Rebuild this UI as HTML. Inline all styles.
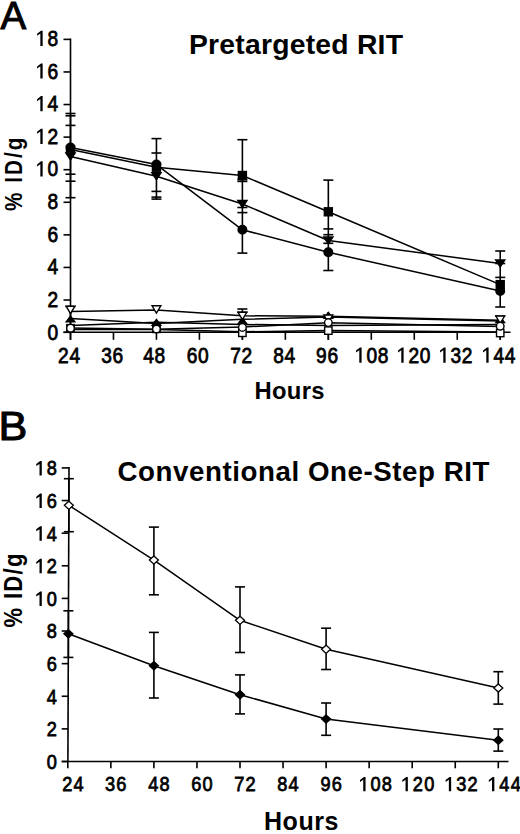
<!DOCTYPE html>
<html><head><meta charset="utf-8"><style>
html,body{margin:0;padding:0;background:#fff;}
body{width:520px;height:834px;overflow:hidden;}
svg{display:block;}
text{font-family:"Liberation Sans", sans-serif;fill:#000;stroke:#000;stroke-width:0.45px;}
text.b{stroke-width:0.3px;}
</style></head><body>
<svg width="520" height="834" viewBox="0 0 520 834">
<rect width="520" height="834" fill="#fff"/>
<text x="0.50" y="28.60" font-size="38.5" font-weight="normal" text-anchor="start" style="stroke-width:1.0px" >A</text>
<text x="189.00" y="53.80" font-size="28.3" font-weight="bold" text-anchor="start" textLength="214" lengthAdjust="spacing" style="stroke-width:0px" >Pretargeted RIT</text>
<text transform="translate(22.3,211.0) rotate(-90) scale(0.88,1)" font-size="23.5" font-weight="bold" textLength="83.52" lengthAdjust="spacing" style="stroke-width:0">% ID/g</text>
<line x1="70.50" y1="38.58" x2="70.50" y2="332.30" stroke="#000" stroke-width="1.6"/>
<line x1="63.50" y1="332.30" x2="510.50" y2="332.30" stroke="#000" stroke-width="1.6"/>
<line x1="63.50" y1="332.30" x2="70.50" y2="332.30" stroke="#000" stroke-width="1.6"/>
<text x="0" y="339.80" font-size="21.5" text-anchor="middle" transform="translate(52.80,0) scale(0.89,1)" style="stroke-width:0.79px">0</text>
<line x1="63.50" y1="300.02" x2="70.50" y2="300.02" stroke="#000" stroke-width="1.6"/>
<text x="0" y="307.14" font-size="21.5" text-anchor="middle" transform="translate(52.80,0) scale(0.89,1)" style="stroke-width:0.79px">2</text>
<line x1="63.50" y1="267.44" x2="70.50" y2="267.44" stroke="#000" stroke-width="1.6"/>
<text x="0" y="274.48" font-size="21.5" text-anchor="middle" transform="translate(52.80,0) scale(0.89,1)" style="stroke-width:0.79px">4</text>
<line x1="63.50" y1="234.86" x2="70.50" y2="234.86" stroke="#000" stroke-width="1.6"/>
<text x="0" y="241.82" font-size="21.5" text-anchor="middle" transform="translate(52.80,0) scale(0.89,1)" style="stroke-width:0.79px">6</text>
<line x1="63.50" y1="202.28" x2="70.50" y2="202.28" stroke="#000" stroke-width="1.6"/>
<text x="0" y="209.16" font-size="21.5" text-anchor="middle" transform="translate(52.80,0) scale(0.89,1)" style="stroke-width:0.79px">8</text>
<line x1="63.50" y1="169.70" x2="70.50" y2="169.70" stroke="#000" stroke-width="1.6"/>
<polygon points="42.65,176.60 42.65,161.36 41.00,161.36 37.10,164.46 37.10,166.46 40.35,164.26 40.35,176.60" fill="#000"/>
<text x="0" y="176.50" font-size="21.5" text-anchor="middle" transform="translate(52.80,0) scale(0.89,1)" style="stroke-width:0.79px">0</text>
<line x1="63.50" y1="137.12" x2="70.50" y2="137.12" stroke="#000" stroke-width="1.6"/>
<polygon points="42.65,143.94 42.65,128.70 41.00,128.70 37.10,131.80 37.10,133.80 40.35,131.60 40.35,143.94" fill="#000"/>
<text x="0" y="143.84" font-size="21.5" text-anchor="middle" transform="translate(52.80,0) scale(0.89,1)" style="stroke-width:0.79px">2</text>
<line x1="63.50" y1="104.54" x2="70.50" y2="104.54" stroke="#000" stroke-width="1.6"/>
<polygon points="42.65,111.28 42.65,96.04 41.00,96.04 37.10,99.14 37.10,101.14 40.35,98.94 40.35,111.28" fill="#000"/>
<text x="0" y="111.18" font-size="21.5" text-anchor="middle" transform="translate(52.80,0) scale(0.89,1)" style="stroke-width:0.79px">4</text>
<line x1="63.50" y1="71.96" x2="70.50" y2="71.96" stroke="#000" stroke-width="1.6"/>
<polygon points="42.65,78.62 42.65,63.38 41.00,63.38 37.10,66.48 37.10,68.48 40.35,66.28 40.35,78.62" fill="#000"/>
<text x="0" y="78.52" font-size="21.5" text-anchor="middle" transform="translate(52.80,0) scale(0.89,1)" style="stroke-width:0.79px">6</text>
<line x1="63.50" y1="39.38" x2="70.50" y2="39.38" stroke="#000" stroke-width="1.6"/>
<polygon points="42.65,45.96 42.65,30.72 41.00,30.72 37.10,33.82 37.10,35.82 40.35,33.62 40.35,45.96" fill="#000"/>
<text x="0" y="45.86" font-size="21.5" text-anchor="middle" transform="translate(52.80,0) scale(0.89,1)" style="stroke-width:0.79px">8</text>
<line x1="70.50" y1="332.30" x2="70.50" y2="339.80" stroke="#000" stroke-width="1.6"/>
<text x="0" y="362.60" font-size="21.5" text-anchor="middle" transform="translate(63.35,0) scale(0.89,1)" style="stroke-width:0.79px">2</text>
<text x="0" y="362.60" font-size="21.5" text-anchor="middle" transform="translate(74.75,0) scale(0.89,1)" style="stroke-width:0.79px">4</text>
<line x1="113.47" y1="332.30" x2="113.47" y2="339.80" stroke="#000" stroke-width="1.6"/>
<text x="0" y="362.60" font-size="21.5" text-anchor="middle" transform="translate(106.45,0) scale(0.89,1)" style="stroke-width:0.79px">3</text>
<text x="0" y="362.60" font-size="21.5" text-anchor="middle" transform="translate(117.85,0) scale(0.89,1)" style="stroke-width:0.79px">6</text>
<line x1="156.44" y1="332.30" x2="156.44" y2="339.80" stroke="#000" stroke-width="1.6"/>
<text x="0" y="362.60" font-size="21.5" text-anchor="middle" transform="translate(148.50,0) scale(0.89,1)" style="stroke-width:0.79px">4</text>
<text x="0" y="362.60" font-size="21.5" text-anchor="middle" transform="translate(159.90,0) scale(0.89,1)" style="stroke-width:0.79px">8</text>
<line x1="199.42" y1="332.30" x2="199.42" y2="339.80" stroke="#000" stroke-width="1.6"/>
<text x="0" y="362.60" font-size="21.5" text-anchor="middle" transform="translate(191.95,0) scale(0.89,1)" style="stroke-width:0.79px">6</text>
<text x="0" y="362.60" font-size="21.5" text-anchor="middle" transform="translate(203.35,0) scale(0.89,1)" style="stroke-width:0.79px">0</text>
<line x1="242.39" y1="332.30" x2="242.39" y2="339.80" stroke="#000" stroke-width="1.6"/>
<text x="0" y="362.60" font-size="21.5" text-anchor="middle" transform="translate(235.45,0) scale(0.89,1)" style="stroke-width:0.79px">7</text>
<text x="0" y="362.60" font-size="21.5" text-anchor="middle" transform="translate(246.85,0) scale(0.89,1)" style="stroke-width:0.79px">2</text>
<line x1="285.36" y1="332.30" x2="285.36" y2="339.80" stroke="#000" stroke-width="1.6"/>
<text x="0" y="362.60" font-size="21.5" text-anchor="middle" transform="translate(278.45,0) scale(0.89,1)" style="stroke-width:0.79px">8</text>
<text x="0" y="362.60" font-size="21.5" text-anchor="middle" transform="translate(289.85,0) scale(0.89,1)" style="stroke-width:0.79px">4</text>
<line x1="328.33" y1="332.30" x2="328.33" y2="339.80" stroke="#000" stroke-width="1.6"/>
<text x="0" y="362.60" font-size="21.5" text-anchor="middle" transform="translate(321.40,0) scale(0.89,1)" style="stroke-width:0.79px">9</text>
<text x="0" y="362.60" font-size="21.5" text-anchor="middle" transform="translate(332.80,0) scale(0.89,1)" style="stroke-width:0.79px">6</text>
<line x1="371.30" y1="332.30" x2="371.30" y2="339.80" stroke="#000" stroke-width="1.6"/>
<polygon points="361.60,362.70 361.60,347.46 359.95,347.46 356.05,350.56 356.05,352.56 359.30,350.36 359.30,362.70" fill="#000"/>
<text x="0" y="362.60" font-size="21.5" text-anchor="middle" transform="translate(371.75,0) scale(0.89,1)" style="stroke-width:0.79px">0</text>
<text x="0" y="362.60" font-size="21.5" text-anchor="middle" transform="translate(383.15,0) scale(0.89,1)" style="stroke-width:0.79px">8</text>
<line x1="414.28" y1="332.30" x2="414.28" y2="339.80" stroke="#000" stroke-width="1.6"/>
<polygon points="403.60,362.70 403.60,347.46 401.95,347.46 398.05,350.56 398.05,352.56 401.30,350.36 401.30,362.70" fill="#000"/>
<text x="0" y="362.60" font-size="21.5" text-anchor="middle" transform="translate(413.75,0) scale(0.89,1)" style="stroke-width:0.79px">2</text>
<text x="0" y="362.60" font-size="21.5" text-anchor="middle" transform="translate(425.15,0) scale(0.89,1)" style="stroke-width:0.79px">0</text>
<line x1="457.25" y1="332.30" x2="457.25" y2="339.80" stroke="#000" stroke-width="1.6"/>
<polygon points="445.60,362.70 445.60,347.46 443.95,347.46 440.05,350.56 440.05,352.56 443.30,350.36 443.30,362.70" fill="#000"/>
<text x="0" y="362.60" font-size="21.5" text-anchor="middle" transform="translate(455.75,0) scale(0.89,1)" style="stroke-width:0.79px">3</text>
<text x="0" y="362.60" font-size="21.5" text-anchor="middle" transform="translate(467.15,0) scale(0.89,1)" style="stroke-width:0.79px">2</text>
<line x1="500.22" y1="332.30" x2="500.22" y2="339.80" stroke="#000" stroke-width="1.6"/>
<polygon points="488.60,362.70 488.60,347.46 486.95,347.46 483.05,350.56 483.05,352.56 486.30,350.36 486.30,362.70" fill="#000"/>
<text x="0" y="362.60" font-size="21.5" text-anchor="middle" transform="translate(498.75,0) scale(0.89,1)" style="stroke-width:0.79px">4</text>
<text x="0" y="362.60" font-size="21.5" text-anchor="middle" transform="translate(510.15,0) scale(0.89,1)" style="stroke-width:0.79px">4</text>
<text x="254.50" y="398.60" font-size="23.8" font-weight="bold" text-anchor="start" textLength="70" lengthAdjust="spacing" style="stroke-width:0px" >Hours</text>
<line x1="70.50" y1="113.50" x2="70.50" y2="197.70" stroke="#000" stroke-width="1.6"/>
<line x1="65.50" y1="113.50" x2="75.50" y2="113.50" stroke="#000" stroke-width="1.6"/>
<line x1="65.50" y1="115.80" x2="75.50" y2="115.80" stroke="#000" stroke-width="1.6"/>
<line x1="65.50" y1="125.40" x2="75.50" y2="125.40" stroke="#000" stroke-width="1.6"/>
<line x1="65.50" y1="174.20" x2="75.50" y2="174.20" stroke="#000" stroke-width="1.6"/>
<line x1="65.50" y1="181.20" x2="75.50" y2="181.20" stroke="#000" stroke-width="1.6"/>
<line x1="65.50" y1="197.70" x2="75.50" y2="197.70" stroke="#000" stroke-width="1.6"/>
<line x1="156.44" y1="138.60" x2="156.44" y2="199.10" stroke="#000" stroke-width="1.6"/>
<line x1="151.44" y1="138.60" x2="161.44" y2="138.60" stroke="#000" stroke-width="1.6"/>
<line x1="151.44" y1="153.00" x2="161.44" y2="153.00" stroke="#000" stroke-width="1.6"/>
<line x1="151.44" y1="191.40" x2="161.44" y2="191.40" stroke="#000" stroke-width="1.6"/>
<line x1="151.44" y1="197.10" x2="161.44" y2="197.10" stroke="#000" stroke-width="1.6"/>
<line x1="151.44" y1="199.10" x2="161.44" y2="199.10" stroke="#000" stroke-width="1.6"/>
<line x1="242.39" y1="139.70" x2="242.39" y2="253.10" stroke="#000" stroke-width="1.6"/>
<line x1="237.39" y1="139.70" x2="247.39" y2="139.70" stroke="#000" stroke-width="1.6"/>
<line x1="237.39" y1="179.60" x2="247.39" y2="179.60" stroke="#000" stroke-width="1.6"/>
<line x1="237.39" y1="181.40" x2="247.39" y2="181.40" stroke="#000" stroke-width="1.6"/>
<line x1="237.39" y1="207.50" x2="247.39" y2="207.50" stroke="#000" stroke-width="1.6"/>
<line x1="237.39" y1="212.60" x2="247.39" y2="212.60" stroke="#000" stroke-width="1.6"/>
<line x1="237.39" y1="253.10" x2="247.39" y2="253.10" stroke="#000" stroke-width="1.6"/>
<line x1="328.33" y1="180.10" x2="328.33" y2="270.50" stroke="#000" stroke-width="1.6"/>
<line x1="323.33" y1="180.10" x2="333.33" y2="180.10" stroke="#000" stroke-width="1.6"/>
<line x1="323.33" y1="228.90" x2="333.33" y2="228.90" stroke="#000" stroke-width="1.6"/>
<line x1="323.33" y1="234.70" x2="333.33" y2="234.70" stroke="#000" stroke-width="1.6"/>
<line x1="323.33" y1="243.30" x2="333.33" y2="243.30" stroke="#000" stroke-width="1.6"/>
<line x1="323.33" y1="270.50" x2="333.33" y2="270.50" stroke="#000" stroke-width="1.6"/>
<line x1="500.22" y1="251.00" x2="500.22" y2="307.00" stroke="#000" stroke-width="1.6"/>
<line x1="495.22" y1="251.00" x2="505.22" y2="251.00" stroke="#000" stroke-width="1.6"/>
<line x1="495.22" y1="263.50" x2="505.22" y2="263.50" stroke="#000" stroke-width="1.6"/>
<line x1="495.22" y1="277.40" x2="505.22" y2="277.40" stroke="#000" stroke-width="1.6"/>
<line x1="495.22" y1="307.00" x2="505.22" y2="307.00" stroke="#000" stroke-width="1.6"/>
<line x1="70.50" y1="306.50" x2="70.50" y2="339.80" stroke="#000" stroke-width="1.6"/>
<line x1="65.50" y1="306.50" x2="75.50" y2="306.50" stroke="#000" stroke-width="1.6"/>
<line x1="242.39" y1="309.00" x2="242.39" y2="339.80" stroke="#000" stroke-width="1.6"/>
<line x1="237.39" y1="309.00" x2="247.39" y2="309.00" stroke="#000" stroke-width="1.6"/>
<line x1="237.39" y1="312.30" x2="247.39" y2="312.30" stroke="#000" stroke-width="1.6"/>
<line x1="328.33" y1="312.00" x2="328.33" y2="339.80" stroke="#000" stroke-width="1.6"/>
<line x1="500.22" y1="316.20" x2="500.22" y2="339.80" stroke="#000" stroke-width="1.6"/>
<line x1="495.22" y1="316.20" x2="505.22" y2="316.20" stroke="#000" stroke-width="1.6"/>
<polyline points="70.50,311.60 156.44,310.00 242.39,315.80 328.33,316.30 500.22,320.30" fill="none" stroke="#000" stroke-width="1.5" stroke-linejoin="round"/>
<polyline points="70.50,318.40 156.44,323.40 242.39,319.30 328.33,317.00 500.22,321.00" fill="none" stroke="#000" stroke-width="1.5" stroke-linejoin="round"/>
<polyline points="70.50,328.00 156.44,329.30 242.39,327.00 328.33,322.80 500.22,326.60" fill="none" stroke="#000" stroke-width="1.5" stroke-linejoin="round"/>
<polyline points="70.50,329.60 156.44,329.60 242.39,331.80 328.33,330.60 500.22,332.00" fill="none" stroke="#000" stroke-width="1.5" stroke-linejoin="round"/>
<polyline points="70.50,325.60 156.44,322.20 242.39,324.50 328.33,325.40 500.22,324.40" fill="none" stroke="#000" stroke-width="1.5" stroke-linejoin="round"/>
<rect x="66.80" y="324.60" width="7.4" height="7.4" fill="#fff" stroke="#000" stroke-width="1.4"/>
<rect x="152.74" y="325.10" width="7.4" height="7.4" fill="#fff" stroke="#000" stroke-width="1.4"/>
<rect x="238.69" y="329.10" width="7.4" height="7.4" fill="#fff" stroke="#000" stroke-width="1.4"/>
<rect x="324.63" y="326.90" width="7.4" height="7.4" fill="#fff" stroke="#000" stroke-width="1.4"/>
<rect x="496.52" y="329.30" width="7.4" height="7.4" fill="#fff" stroke="#000" stroke-width="1.4"/>
<polygon points="66.00,322.00 75.00,322.00 70.50,316.00" fill="#000" stroke="#000" stroke-width="1.2"/>
<polygon points="151.94,325.30 160.94,325.30 156.44,319.30" fill="#000" stroke="#000" stroke-width="1.2"/>
<polygon points="237.89,323.80 246.89,323.80 242.39,317.80" fill="#000" stroke="#000" stroke-width="1.2"/>
<polygon points="323.83,318.30 332.83,318.30 328.33,312.30" fill="#000" stroke="#000" stroke-width="1.2"/>
<polygon points="495.72,322.60 504.72,322.60 500.22,316.60" fill="#000" stroke="#000" stroke-width="1.2"/>
<polygon points="66.10,306.20 74.90,306.20 70.50,313.60" fill="#fff" stroke="#000" stroke-width="1.4" stroke-linejoin="miter"/>
<polygon points="152.04,305.80 160.84,305.80 156.44,313.20" fill="#fff" stroke="#000" stroke-width="1.4" stroke-linejoin="miter"/>
<polygon points="237.99,312.30 246.79,312.30 242.39,319.70" fill="#fff" stroke="#000" stroke-width="1.4" stroke-linejoin="miter"/>
<polygon points="323.93,315.00 332.73,315.00 328.33,322.40" fill="#fff" stroke="#000" stroke-width="1.4" stroke-linejoin="miter"/>
<polygon points="495.82,316.00 504.62,316.00 500.22,323.40" fill="#fff" stroke="#000" stroke-width="1.4" stroke-linejoin="miter"/>
<circle cx="70.50" cy="328.20" r="3.8" fill="#fff" stroke="#000" stroke-width="1.4"/>
<circle cx="156.44" cy="329.00" r="3.8" fill="#fff" stroke="#000" stroke-width="1.4"/>
<circle cx="242.39" cy="327.40" r="3.8" fill="#fff" stroke="#000" stroke-width="1.4"/>
<circle cx="328.33" cy="322.60" r="3.8" fill="#fff" stroke="#000" stroke-width="1.4"/>
<circle cx="500.22" cy="326.20" r="3.8" fill="#fff" stroke="#000" stroke-width="1.4"/>
<polyline points="70.50,149.60 156.44,167.20 242.39,175.50 328.33,211.80 500.22,284.60" fill="none" stroke="#000" stroke-width="1.5" stroke-linejoin="round"/>
<polyline points="70.50,147.60 156.44,164.60 242.39,229.80 328.33,252.30 500.22,291.00" fill="none" stroke="#000" stroke-width="1.5" stroke-linejoin="round"/>
<polyline points="70.50,156.40 156.44,176.30 242.39,204.00 328.33,240.50 500.22,263.50" fill="none" stroke="#000" stroke-width="1.5" stroke-linejoin="round"/>
<rect x="66.50" y="145.60" width="8.0" height="8.0" fill="#000" stroke="#000" stroke-width="1.4"/>
<rect x="152.44" y="163.20" width="8.0" height="8.0" fill="#000" stroke="#000" stroke-width="1.4"/>
<rect x="238.39" y="171.50" width="8.0" height="8.0" fill="#000" stroke="#000" stroke-width="1.4"/>
<rect x="324.33" y="207.80" width="8.0" height="8.0" fill="#000" stroke="#000" stroke-width="1.4"/>
<rect x="496.22" y="280.60" width="8.0" height="8.0" fill="#000" stroke="#000" stroke-width="1.4"/>
<polygon points="65.90,152.90 75.10,152.90 70.50,159.90" fill="#000" stroke="#000" stroke-width="1.4" stroke-linejoin="miter"/>
<polygon points="151.84,172.80 161.04,172.80 156.44,179.80" fill="#000" stroke="#000" stroke-width="1.4" stroke-linejoin="miter"/>
<polygon points="237.79,200.50 246.99,200.50 242.39,207.50" fill="#000" stroke="#000" stroke-width="1.4" stroke-linejoin="miter"/>
<polygon points="323.73,237.00 332.93,237.00 328.33,244.00" fill="#000" stroke="#000" stroke-width="1.4" stroke-linejoin="miter"/>
<polygon points="495.62,260.00 504.82,260.00 500.22,267.00" fill="#000" stroke="#000" stroke-width="1.4" stroke-linejoin="miter"/>
<circle cx="70.50" cy="147.60" r="4.3" fill="#000" stroke="#000" stroke-width="1.4"/>
<circle cx="156.44" cy="164.60" r="4.3" fill="#000" stroke="#000" stroke-width="1.4"/>
<circle cx="242.39" cy="229.80" r="4.3" fill="#000" stroke="#000" stroke-width="1.4"/>
<circle cx="328.33" cy="252.30" r="4.3" fill="#000" stroke="#000" stroke-width="1.4"/>
<circle cx="500.22" cy="291.00" r="4.3" fill="#000" stroke="#000" stroke-width="1.4"/>
<g transform="translate(-1.6,0) scale(1.08,1)">
<text x="0.00" y="440.00" font-size="40" font-weight="normal" text-anchor="start" style="stroke-width:1.0px" >B</text>
</g>
<text x="117.50" y="481.00" font-size="27.7" font-weight="bold" text-anchor="start" textLength="372" lengthAdjust="spacing" style="stroke-width:0px" >Conventional One-Step RIT</text>
<text transform="translate(22.3,627.5) rotate(-90) scale(0.88,1)" font-size="25" font-weight="bold" textLength="84.09" lengthAdjust="spacing" style="stroke-width:0">% ID/g</text>
<line x1="69.00" y1="467.12" x2="67.90" y2="761.50" stroke="#000" stroke-width="1.6"/>
<line x1="61.70" y1="761.50" x2="508.50" y2="761.50" stroke="#000" stroke-width="1.6"/>
<line x1="61.70" y1="761.50" x2="67.90" y2="761.50" stroke="#000" stroke-width="1.6"/>
<text x="0" y="768.90" font-size="20.3" text-anchor="middle" transform="translate(51.85,0) scale(0.897,1)" style="stroke-width:0.78px">0</text>
<line x1="61.70" y1="728.88" x2="68.02" y2="728.88" stroke="#000" stroke-width="1.6"/>
<text x="0" y="736.28" font-size="20.3" text-anchor="middle" transform="translate(51.85,0) scale(0.897,1)" style="stroke-width:0.78px">2</text>
<line x1="61.70" y1="696.26" x2="68.14" y2="696.26" stroke="#000" stroke-width="1.6"/>
<text x="0" y="703.66" font-size="20.3" text-anchor="middle" transform="translate(51.85,0) scale(0.897,1)" style="stroke-width:0.78px">4</text>
<line x1="61.70" y1="663.64" x2="68.27" y2="663.64" stroke="#000" stroke-width="1.6"/>
<text x="0" y="671.04" font-size="20.3" text-anchor="middle" transform="translate(51.85,0) scale(0.897,1)" style="stroke-width:0.78px">6</text>
<line x1="61.70" y1="631.02" x2="68.39" y2="631.02" stroke="#000" stroke-width="1.6"/>
<text x="0" y="638.42" font-size="20.3" text-anchor="middle" transform="translate(51.85,0) scale(0.897,1)" style="stroke-width:0.78px">8</text>
<line x1="61.70" y1="598.40" x2="68.51" y2="598.40" stroke="#000" stroke-width="1.6"/>
<polygon points="41.80,605.90 41.80,591.48 40.15,591.48 36.25,594.58 36.25,596.58 39.50,594.38 39.50,605.90" fill="#000"/>
<text x="0" y="605.80" font-size="20.3" text-anchor="middle" transform="translate(51.85,0) scale(0.897,1)" style="stroke-width:0.78px">0</text>
<line x1="61.70" y1="565.78" x2="68.63" y2="565.78" stroke="#000" stroke-width="1.6"/>
<polygon points="41.80,573.28 41.80,558.86 40.15,558.86 36.25,561.96 36.25,563.96 39.50,561.76 39.50,573.28" fill="#000"/>
<text x="0" y="573.18" font-size="20.3" text-anchor="middle" transform="translate(51.85,0) scale(0.897,1)" style="stroke-width:0.78px">2</text>
<line x1="61.70" y1="533.16" x2="68.76" y2="533.16" stroke="#000" stroke-width="1.6"/>
<polygon points="41.80,540.66 41.80,526.24 40.15,526.24 36.25,529.34 36.25,531.34 39.50,529.14 39.50,540.66" fill="#000"/>
<text x="0" y="540.56" font-size="20.3" text-anchor="middle" transform="translate(51.85,0) scale(0.897,1)" style="stroke-width:0.78px">4</text>
<line x1="61.70" y1="500.54" x2="68.88" y2="500.54" stroke="#000" stroke-width="1.6"/>
<polygon points="41.80,508.04 41.80,493.62 40.15,493.62 36.25,496.72 36.25,498.72 39.50,496.52 39.50,508.04" fill="#000"/>
<text x="0" y="507.94" font-size="20.3" text-anchor="middle" transform="translate(51.85,0) scale(0.897,1)" style="stroke-width:0.78px">6</text>
<line x1="61.70" y1="467.92" x2="69.00" y2="467.92" stroke="#000" stroke-width="1.6"/>
<polygon points="41.80,475.42 41.80,461.00 40.15,461.00 36.25,464.10 36.25,466.10 39.50,463.90 39.50,475.42" fill="#000"/>
<text x="0" y="475.32" font-size="20.3" text-anchor="middle" transform="translate(51.85,0) scale(0.897,1)" style="stroke-width:0.78px">8</text>
<line x1="67.80" y1="761.50" x2="67.80" y2="768.30" stroke="#000" stroke-width="1.6"/>
<text x="0" y="791.20" font-size="20.3" text-anchor="middle" transform="translate(67.35,0) scale(0.897,1)" style="stroke-width:0.78px">2</text>
<text x="0" y="791.20" font-size="20.3" text-anchor="middle" transform="translate(78.65,0) scale(0.897,1)" style="stroke-width:0.78px">4</text>
<line x1="110.85" y1="761.50" x2="110.85" y2="768.30" stroke="#000" stroke-width="1.6"/>
<text x="0" y="791.20" font-size="20.3" text-anchor="middle" transform="translate(109.95,0) scale(0.897,1)" style="stroke-width:0.78px">3</text>
<text x="0" y="791.20" font-size="20.3" text-anchor="middle" transform="translate(121.25,0) scale(0.897,1)" style="stroke-width:0.78px">6</text>
<line x1="153.90" y1="761.50" x2="153.90" y2="768.30" stroke="#000" stroke-width="1.6"/>
<text x="0" y="791.20" font-size="20.3" text-anchor="middle" transform="translate(153.25,0) scale(0.897,1)" style="stroke-width:0.78px">4</text>
<text x="0" y="791.20" font-size="20.3" text-anchor="middle" transform="translate(164.55,0) scale(0.897,1)" style="stroke-width:0.78px">8</text>
<line x1="196.95" y1="761.50" x2="196.95" y2="768.30" stroke="#000" stroke-width="1.6"/>
<text x="0" y="791.20" font-size="20.3" text-anchor="middle" transform="translate(196.35,0) scale(0.897,1)" style="stroke-width:0.78px">6</text>
<text x="0" y="791.20" font-size="20.3" text-anchor="middle" transform="translate(207.65,0) scale(0.897,1)" style="stroke-width:0.78px">0</text>
<line x1="240.00" y1="761.50" x2="240.00" y2="768.30" stroke="#000" stroke-width="1.6"/>
<text x="0" y="791.20" font-size="20.3" text-anchor="middle" transform="translate(239.25,0) scale(0.897,1)" style="stroke-width:0.78px">7</text>
<text x="0" y="791.20" font-size="20.3" text-anchor="middle" transform="translate(250.55,0) scale(0.897,1)" style="stroke-width:0.78px">2</text>
<line x1="283.05" y1="761.50" x2="283.05" y2="768.30" stroke="#000" stroke-width="1.6"/>
<text x="0" y="791.20" font-size="20.3" text-anchor="middle" transform="translate(282.25,0) scale(0.897,1)" style="stroke-width:0.78px">8</text>
<text x="0" y="791.20" font-size="20.3" text-anchor="middle" transform="translate(293.55,0) scale(0.897,1)" style="stroke-width:0.78px">4</text>
<line x1="326.10" y1="761.50" x2="326.10" y2="768.30" stroke="#000" stroke-width="1.6"/>
<text x="0" y="791.20" font-size="20.3" text-anchor="middle" transform="translate(325.55,0) scale(0.897,1)" style="stroke-width:0.78px">9</text>
<text x="0" y="791.20" font-size="20.3" text-anchor="middle" transform="translate(336.85,0) scale(0.897,1)" style="stroke-width:0.78px">6</text>
<line x1="369.15" y1="761.50" x2="369.15" y2="768.30" stroke="#000" stroke-width="1.6"/>
<polygon points="365.55,791.30 365.55,776.88 363.90,776.88 360.00,779.98 360.00,781.98 363.25,779.78 363.25,791.30" fill="#000"/>
<text x="0" y="791.20" font-size="20.3" text-anchor="middle" transform="translate(375.60,0) scale(0.897,1)" style="stroke-width:0.78px">0</text>
<text x="0" y="791.20" font-size="20.3" text-anchor="middle" transform="translate(386.90,0) scale(0.897,1)" style="stroke-width:0.78px">8</text>
<line x1="412.20" y1="761.50" x2="412.20" y2="768.30" stroke="#000" stroke-width="1.6"/>
<polygon points="407.85,791.30 407.85,776.88 406.20,776.88 402.30,779.98 402.30,781.98 405.55,779.78 405.55,791.30" fill="#000"/>
<text x="0" y="791.20" font-size="20.3" text-anchor="middle" transform="translate(417.90,0) scale(0.897,1)" style="stroke-width:0.78px">2</text>
<text x="0" y="791.20" font-size="20.3" text-anchor="middle" transform="translate(429.20,0) scale(0.897,1)" style="stroke-width:0.78px">0</text>
<line x1="455.25" y1="761.50" x2="455.25" y2="768.30" stroke="#000" stroke-width="1.6"/>
<polygon points="451.15,791.30 451.15,776.88 449.50,776.88 445.60,779.98 445.60,781.98 448.85,779.78 448.85,791.30" fill="#000"/>
<text x="0" y="791.20" font-size="20.3" text-anchor="middle" transform="translate(461.20,0) scale(0.897,1)" style="stroke-width:0.78px">3</text>
<text x="0" y="791.20" font-size="20.3" text-anchor="middle" transform="translate(472.50,0) scale(0.897,1)" style="stroke-width:0.78px">2</text>
<line x1="498.30" y1="761.50" x2="498.30" y2="768.30" stroke="#000" stroke-width="1.6"/>
<polygon points="494.35,791.30 494.35,776.88 492.70,776.88 488.80,779.98 488.80,781.98 492.05,779.78 492.05,791.30" fill="#000"/>
<text x="0" y="791.20" font-size="20.3" text-anchor="middle" transform="translate(504.40,0) scale(0.897,1)" style="stroke-width:0.78px">4</text>
<text x="0" y="791.20" font-size="20.3" text-anchor="middle" transform="translate(515.70,0) scale(0.897,1)" style="stroke-width:0.78px">4</text>
<text x="264.00" y="829.60" font-size="25" font-weight="bold" text-anchor="start" textLength="74.5" lengthAdjust="spacing" style="stroke-width:0px" >Hours</text>
<line x1="68.86" y1="478.70" x2="68.86" y2="531.70" stroke="#000" stroke-width="1.6"/>
<line x1="63.86" y1="478.70" x2="73.86" y2="478.70" stroke="#000" stroke-width="1.6"/>
<line x1="63.86" y1="531.70" x2="73.86" y2="531.70" stroke="#000" stroke-width="1.6"/>
<line x1="153.90" y1="527.10" x2="153.90" y2="594.80" stroke="#000" stroke-width="1.6"/>
<line x1="148.90" y1="527.10" x2="158.90" y2="527.10" stroke="#000" stroke-width="1.6"/>
<line x1="148.90" y1="594.80" x2="158.90" y2="594.80" stroke="#000" stroke-width="1.6"/>
<line x1="240.00" y1="586.90" x2="240.00" y2="652.50" stroke="#000" stroke-width="1.6"/>
<line x1="235.00" y1="586.90" x2="245.00" y2="586.90" stroke="#000" stroke-width="1.6"/>
<line x1="235.00" y1="652.50" x2="245.00" y2="652.50" stroke="#000" stroke-width="1.6"/>
<line x1="326.10" y1="628.20" x2="326.10" y2="669.50" stroke="#000" stroke-width="1.6"/>
<line x1="321.10" y1="628.20" x2="331.10" y2="628.20" stroke="#000" stroke-width="1.6"/>
<line x1="321.10" y1="669.50" x2="331.10" y2="669.50" stroke="#000" stroke-width="1.6"/>
<line x1="498.30" y1="671.70" x2="498.30" y2="704.10" stroke="#000" stroke-width="1.6"/>
<line x1="493.30" y1="671.70" x2="503.30" y2="671.70" stroke="#000" stroke-width="1.6"/>
<line x1="493.30" y1="704.10" x2="503.30" y2="704.10" stroke="#000" stroke-width="1.6"/>
<line x1="68.38" y1="610.80" x2="68.38" y2="657.40" stroke="#000" stroke-width="1.6"/>
<line x1="63.38" y1="610.80" x2="73.38" y2="610.80" stroke="#000" stroke-width="1.6"/>
<line x1="63.38" y1="657.40" x2="73.38" y2="657.40" stroke="#000" stroke-width="1.6"/>
<line x1="153.90" y1="632.40" x2="153.90" y2="698.00" stroke="#000" stroke-width="1.6"/>
<line x1="148.90" y1="632.40" x2="158.90" y2="632.40" stroke="#000" stroke-width="1.6"/>
<line x1="148.90" y1="698.00" x2="158.90" y2="698.00" stroke="#000" stroke-width="1.6"/>
<line x1="240.00" y1="674.90" x2="240.00" y2="713.90" stroke="#000" stroke-width="1.6"/>
<line x1="235.00" y1="674.90" x2="245.00" y2="674.90" stroke="#000" stroke-width="1.6"/>
<line x1="235.00" y1="713.90" x2="245.00" y2="713.90" stroke="#000" stroke-width="1.6"/>
<line x1="326.10" y1="703.00" x2="326.10" y2="735.30" stroke="#000" stroke-width="1.6"/>
<line x1="321.10" y1="703.00" x2="331.10" y2="703.00" stroke="#000" stroke-width="1.6"/>
<line x1="321.10" y1="735.30" x2="331.10" y2="735.30" stroke="#000" stroke-width="1.6"/>
<line x1="498.30" y1="729.00" x2="498.30" y2="751.10" stroke="#000" stroke-width="1.6"/>
<line x1="493.30" y1="729.00" x2="503.30" y2="729.00" stroke="#000" stroke-width="1.6"/>
<line x1="493.30" y1="751.10" x2="503.30" y2="751.10" stroke="#000" stroke-width="1.6"/>
<polyline points="68.86,505.30 153.90,560.10 240.00,620.30 326.10,649.30 498.30,688.00" fill="none" stroke="#000" stroke-width="1.5" stroke-linejoin="round"/>
<polyline points="68.38,633.80 153.90,665.70 240.00,694.70 326.10,719.00 498.30,740.20" fill="none" stroke="#000" stroke-width="1.5" stroke-linejoin="round"/>
<polygon points="68.86,501.20 73.36,505.30 68.86,509.40 64.36,505.30" fill="#fff" stroke="#000" stroke-width="1.3"/>
<polygon points="153.90,556.00 158.40,560.10 153.90,564.20 149.40,560.10" fill="#fff" stroke="#000" stroke-width="1.3"/>
<polygon points="240.00,616.20 244.50,620.30 240.00,624.40 235.50,620.30" fill="#fff" stroke="#000" stroke-width="1.3"/>
<polygon points="326.10,645.20 330.60,649.30 326.10,653.40 321.60,649.30" fill="#fff" stroke="#000" stroke-width="1.3"/>
<polygon points="498.30,683.90 502.80,688.00 498.30,692.10 493.80,688.00" fill="#fff" stroke="#000" stroke-width="1.3"/>
<polygon points="68.38,629.70 72.88,633.80 68.38,637.90 63.88,633.80" fill="#000" stroke="#000" stroke-width="1.3"/>
<polygon points="153.90,661.60 158.40,665.70 153.90,669.80 149.40,665.70" fill="#000" stroke="#000" stroke-width="1.3"/>
<polygon points="240.00,690.60 244.50,694.70 240.00,698.80 235.50,694.70" fill="#000" stroke="#000" stroke-width="1.3"/>
<polygon points="326.10,714.90 330.60,719.00 326.10,723.10 321.60,719.00" fill="#000" stroke="#000" stroke-width="1.3"/>
<polygon points="498.30,736.10 502.80,740.20 498.30,744.30 493.80,740.20" fill="#000" stroke="#000" stroke-width="1.3"/>
</svg>
</body></html>
